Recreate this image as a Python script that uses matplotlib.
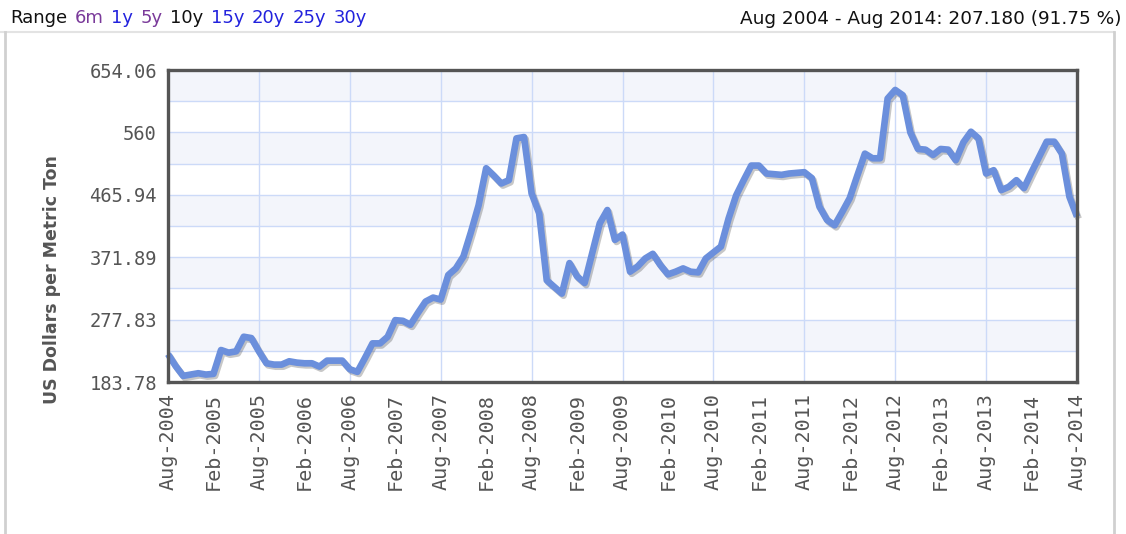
import matplotlib
matplotlib.use("Agg")
import matplotlib.pyplot as plt
import matplotlib.patheffects as pe
from matplotlib.lines import Line2D
import numpy as np

# monthly prices, Aug 2004 .. Aug 2014 (US$ per metric ton)
prices = [
    225.8, 208, 193, 195, 197, 195, 196, 232, 228, 230, 252, 250,   # Aug04-Jul05
    230, 212, 210, 210, 215, 213, 212, 212, 207, 216, 216, 216,     # Aug05-Jul06
    203, 199, 220, 242, 242, 252, 277, 276, 270, 288, 305, 311,     # Aug06-Jul07
    308, 345, 355, 373, 410, 450, 506, 495, 483, 488, 551, 553,     # Aug07-Jul08
    468, 438, 337, 327, 317, 363, 343, 333, 378, 423, 443, 398,     # Aug08-Jul09
    406, 350, 358, 370, 377, 360, 346, 350, 355, 350, 349, 370,     # Aug09-Jul10
    379, 388, 430, 465, 488, 510, 510, 498, 497, 496, 498, 499,     # Aug10-Jul11
    500, 491, 448, 428, 420, 440, 461, 495, 528, 521, 521, 611,     # Aug11-Jul12
    624, 616, 560, 535, 534, 526, 535, 534, 518, 545, 561, 551,     # Aug12-Jul13
    498, 503, 473, 478, 488, 476, 500, 523, 546, 546, 528, 463,     # Aug13-Jul14
    433.0,                                                          # Aug14
]

xtick_labels = [
    "Aug-2004", "Feb-2005", "Aug-2005", "Feb-2006", "Aug-2006", "Feb-2007",
    "Aug-2007", "Feb-2008", "Aug-2008", "Feb-2009", "Aug-2009", "Feb-2010",
    "Aug-2010", "Feb-2011", "Aug-2011", "Feb-2012", "Aug-2012", "Feb-2013",
    "Aug-2013", "Feb-2014", "Aug-2014",
]
ytick_values = [183.78, 277.83, 371.89, 465.94, 560.0, 654.06]
ytick_labels = ["183.78", "277.83", "371.89", "465.94", "560", "654.06"]

range_words = ["Range", "6m", "1y", "5y", "10y", "15y", "20y", "25y", "30y"]
range_colors = ["#111111", "#7a3a9a", "#2222dd", "#7a3a9a", "#111111",
                "#2222dd", "#2222dd", "#2222dd", "#2222dd"]
change_text = "Aug 2004 - Aug 2014: 207.180 (91.75 %)"

W, H = 1126, 534
fig = plt.figure(figsize=(W / 100, H / 100), dpi=100)
ax = fig.add_axes([168 / W, 1 - 382 / H, 909 / W, 312 / H])

x = np.arange(len(prices))
ymin, ymax = ytick_values[0], ytick_values[-1]
levels = np.linspace(ymin, ymax, 11)

# alternating bands + grid
for k in range(10):
    if k % 2 == 1:
        ax.axhspan(levels[k], levels[k + 1], color="#f3f5fb", lw=0, zorder=0)
for lv in levels[1:-1]:
    ax.axhline(lv, color="#ccdaf8", lw=1, zorder=1)
for xv in range(12, 120, 12):
    ax.axvline(xv, color="#ccdaf8", lw=1, zorder=1)

ax.plot(x, prices, color="#6b8fdc", lw=4.8, solid_joinstyle="round",
        solid_capstyle="butt", clip_on=False, zorder=3,
        path_effects=[pe.SimpleLineShadow(offset=(1.2, -1.5), shadow_color="k", alpha=0.22),
                      pe.Normal()])

ax.set_xlim(0, 120)
ax.set_ylim(ymin, ymax)
ax.set_xticks(np.arange(0, 121, 6))
ax.set_xticklabels(xtick_labels, rotation=90, family="DejaVu Sans Mono",
                   fontsize=14.5, color="#555555")
ax.set_yticks(ytick_values)
ax.set_yticklabels(ytick_labels, family="DejaVu Sans Mono", fontsize=13.5,
                   color="#555555")
ax.tick_params(axis="both", length=0)
ax.tick_params(axis="y", pad=8)
ax.tick_params(axis="x", pad=8)
for s in ax.spines.values():
    s.set_color("#555555")
    s.set_linewidth(2.4)
    s.set_zorder(5)

fig.text(52 / W, 1 - 280 / H, "US Dollars per Metric Ton", rotation=90,
         ha="center", va="center", fontsize=12.5, fontweight="bold", color="#555555")

# header: range links laid out one after another
fig.canvas.draw()
renderer = fig.canvas.get_renderer()
xp = 10
for word, col in zip(range_words, range_colors):
    t = fig.text(xp / W, 1 - 18 / H, word, ha="left", va="center",
                 fontsize=13, color=col)
    xp = t.get_window_extent(renderer).x1 + 7.5
fig.text(1121 / W, 1 - 19 / H, change_text, ha="right", va="center",
         fontsize=13.3, color="#111111")

# page frame lines
fig.add_artist(Line2D([0, 1114 / W], [1 - 32 / H, 1 - 32 / H], color="#e3e3e3", lw=1.5))
fig.add_artist(Line2D([5 / W, 5 / W], [0, 1 - 32 / H], color="#d0d0d0", lw=2))
fig.add_artist(Line2D([1114 / W, 1114 / W], [0, 1 - 32 / H], color="#d0d0d0", lw=2))

fig.savefig("out.png", dpi=100, facecolor="white")
